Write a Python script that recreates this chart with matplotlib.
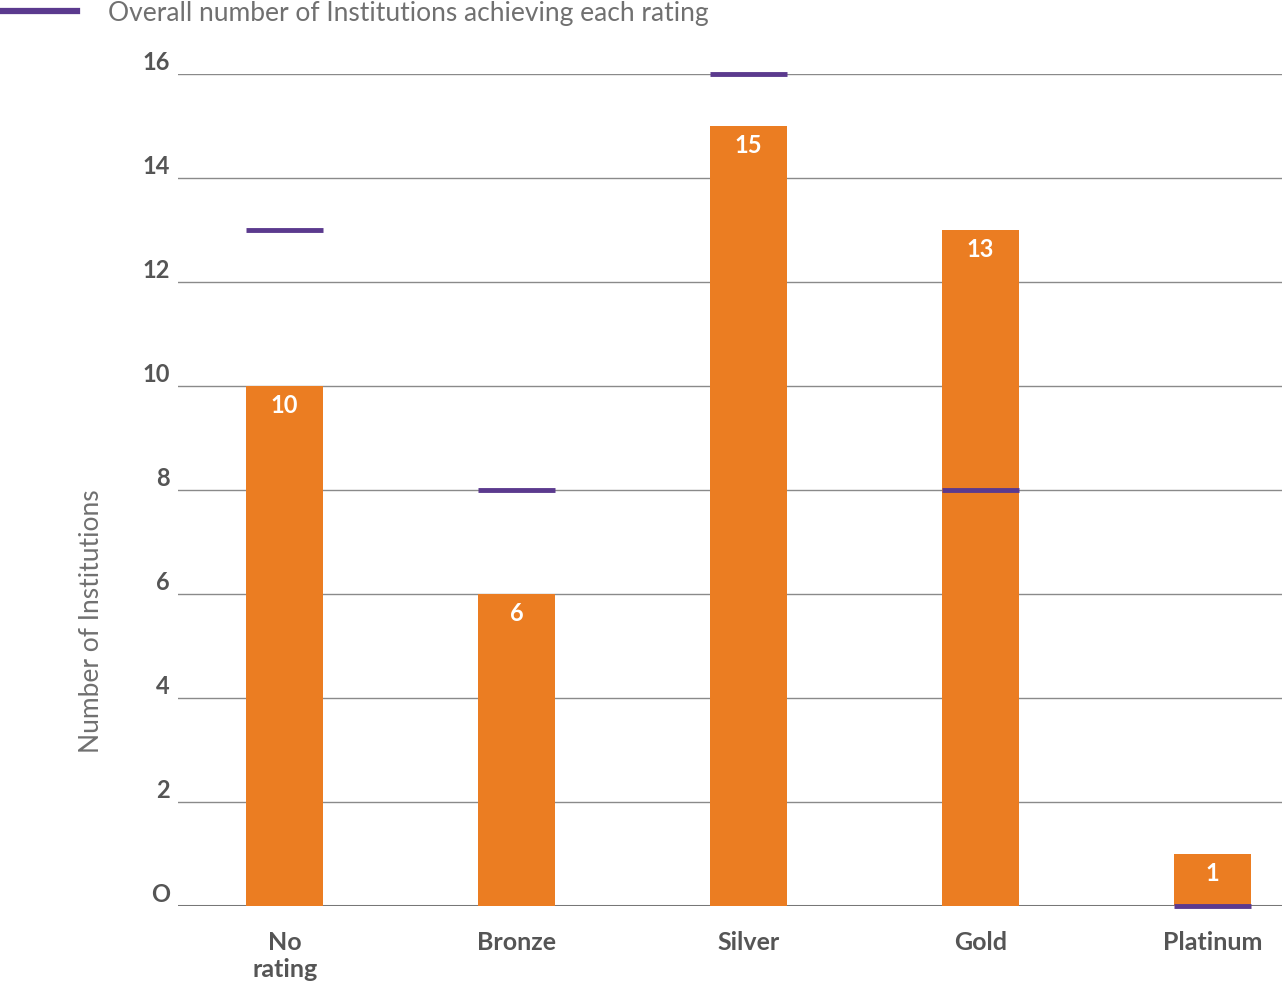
import matplotlib
matplotlib.use("Agg")
import matplotlib.pyplot as plt
from matplotlib.lines import Line2D
import numpy as np

plt.rcParams['font.family'] = ['Lato', 'DejaVu Sans']

categories = ["No\nrating", "Bronze", "Silver", "Gold", "Platinum"]
subset_counts = [10, 6, 15, 13, 1]
overall_counts = [13, 8, 16, 8, 0]
y_ticks = [0, 2, 4, 6, 8, 10, 12, 14, 16]
y_tick_labels = ["O", "2", "4", "6", "8", "10", "12", "14", "16"]

ORANGE = "#EB7D22"
PURPLE = "#5B3A8E"
GRID = "#8A8A8A"
TEXT = "#555555"
LIGHT_TEXT = "#707070"

W, H = 1282, 986
fig = plt.figure(figsize=(W / 100, H / 100), dpi=100)
ax = fig.add_axes([178 / W, (H - 906) / H, 1 - 178 / W, (906 - 74) / H])

x = np.arange(len(categories))
bar_w = 0.33

ax.set_xlim(-0.46, 4.3)
ax.set_ylim(0, 16)

for yv in y_ticks[1:]:
    ax.axhline(yv, color=GRID, lw=1.0, zorder=0)
ax.axhline(0, color="#777777", lw=2.2, zorder=1)

ax.bar(x, subset_counts, width=bar_w, color=ORANGE, zorder=2)
ax.hlines(overall_counts, x - bar_w / 2, x + bar_w / 2, color=PURPLE, lw=3.5,
          zorder=3, clip_on=False)

for xi, v in zip(x, subset_counts):
    ax.annotate(str(v), (xi, v), xytext=(0, -14), textcoords="offset points",
                ha="center", va="center", color="white", fontsize=17, fontweight="bold", zorder=4)

for s in ax.spines.values():
    s.set_visible(False)

ax.set_yticks(y_ticks)
ax.set_yticklabels(y_tick_labels)
ax.tick_params(axis="y", length=0, pad=6, labelsize=17, labelcolor=TEXT)
for lbl in ax.get_yticklabels():
    lbl.set_fontweight("bold")
    lbl.set_verticalalignment("bottom")

ax.set_xticks(x)
ax.set_xticklabels(categories, linespacing=1.2)
ax.tick_params(axis="x", length=0, pad=18, labelsize=18, labelcolor=TEXT)
for lbl in ax.get_xticklabels():
    lbl.set_fontweight("bold")

fig.text(92 / W, 1 - 621 / H, "Number of Institutions", rotation=90, ha="center", va="center",
         fontsize=19, fontweight="normal", color=LIGHT_TEXT)

handle = Line2D([], [], color=PURPLE, lw=4.5)
fig.legend([handle], ["Overall number of Institutions achieving each rating"],
           loc="center left", bbox_to_anchor=(0 / W, 1 - 13 / H), frameon=False,
           handlelength=2.9, handletextpad=1.2, borderaxespad=0, borderpad=0.0,
           prop={"size": 19, "weight": "normal"}, labelcolor=LIGHT_TEXT)

fig.savefig("out.png", dpi=100, facecolor="white")
